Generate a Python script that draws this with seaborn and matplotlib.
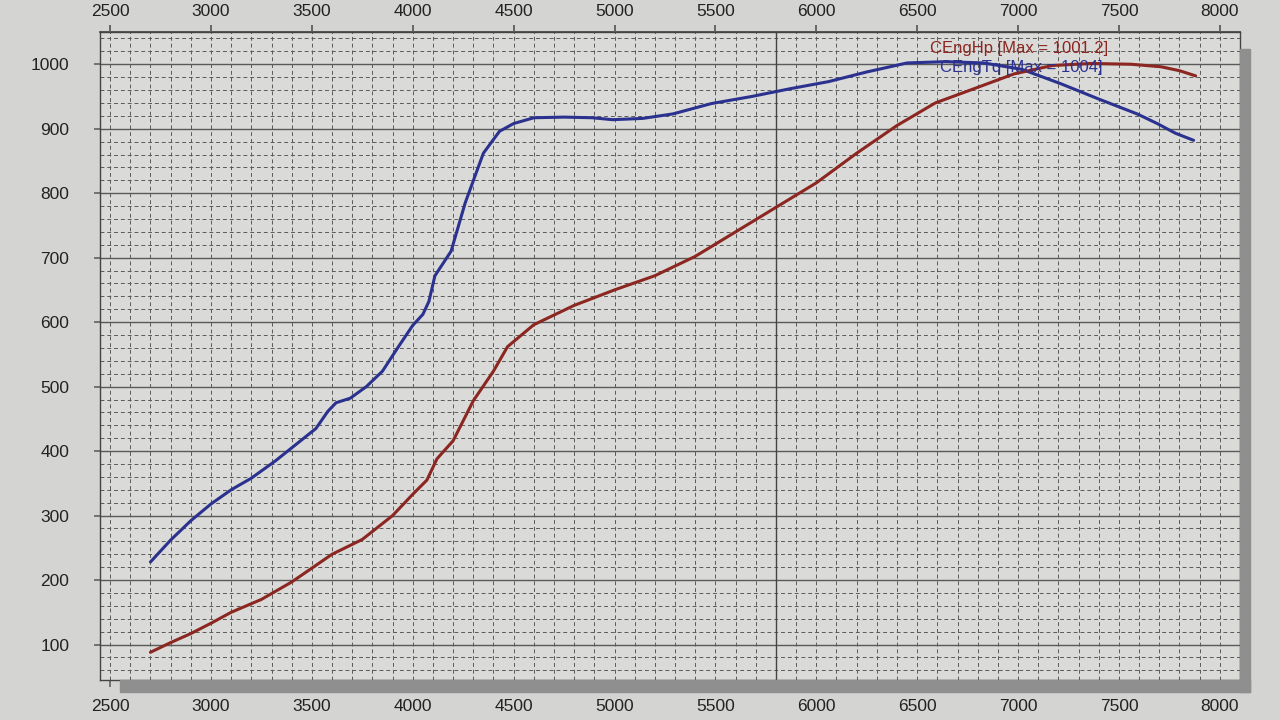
import numpy as np
import pandas as pd
import matplotlib.pyplot as plt
from matplotlib.patches import Rectangle
from matplotlib.ticker import MultipleLocator
import seaborn as sns

# Dyno run: torque (blue) and power (red) vs engine rpm
tq_rpm = [2700, 2800, 2900, 3000, 3100, 3200, 3320, 3420, 3520, 3580, 3620, 3690,
          3770, 3850, 3925, 4000, 4050, 4080, 4110, 4190, 4260, 4350, 4430, 4500,
          4600, 4750, 4890, 4990, 5140, 5290, 5480, 5680, 5870, 6060, 6250, 6450,
          6640, 6830, 7020, 7210, 7400, 7590, 7690, 7780, 7870]
tq_val = [228, 262, 292, 318, 340, 358, 385, 410, 435, 462, 475, 482,
          500, 524, 560, 595, 612, 632, 672, 710, 785, 862, 896, 908,
          917, 918, 917, 914, 916, 923, 939, 950, 962, 973, 988, 1002,
          1004, 1002, 992, 970, 946, 923, 908, 893, 882]

hp_rpm = [2700, 2800, 2900, 3000, 3100, 3250, 3400, 3600, 3750, 3900, 4000, 4070,
          4120, 4200, 4300, 4400, 4470, 4600, 4800, 5000, 5200, 5400, 5600, 5800,
          6000, 6200, 6400, 6590, 6790, 6980, 7170, 7360, 7560, 7710, 7800, 7880]
hp_val = [88, 103, 117, 133, 150, 170, 197, 240, 263, 300, 333, 355,
          388, 416, 478, 524, 562, 596, 626, 650, 672, 702, 740, 778,
          816, 862, 905, 940, 963, 985, 998, 1001.2, 1000, 996, 990, 982]

tq_label = "CEngTq [Max = 1004]"
hp_label = "CEngHp [Max = 1001.2]"
cursor_rpm = 5800

x_ticks = list(range(2500, 8001, 500))
y_ticks = list(range(100, 1001, 100))

blue = "#2b318f"
red = "#8c2620"

sns.set_theme(style="white")
plt.rcParams['font.family'] = ['Liberation Sans', 'DejaVu Sans']

fig = plt.figure(figsize=(12.8, 7.2), dpi=100, facecolor="#d4d4d2")
W, H = 1280, 720
left, right, top, bottom = 100, 1240, 32, 680
ax = fig.add_axes([left / W, 1 - bottom / H, (right - left) / W, (bottom - top) / H])

# drop shadow under / right of the plot panel
fig.patches.append(Rectangle(((left + 20) / W, 1 - (bottom + 12) / H), (right - left - 10) / W, 12 / H,
                             transform=fig.transFigure, color="#8f8f8f", zorder=0))
fig.patches.append(Rectangle((right / W, 1 - (bottom + 12) / H), 10 / W, (bottom - top - 5) / H,
                             transform=fig.transFigure, color="#8f8f8f", zorder=0))

ax.set_facecolor("#dadad8")

tq_df = pd.DataFrame({"rpm": tq_rpm, "value": tq_val})
hp_df = pd.DataFrame({"rpm": hp_rpm, "value": hp_val})
sns.lineplot(data=tq_df, x="rpm", y="value", ax=ax, color=blue, linewidth=2.2, zorder=5)
sns.lineplot(data=hp_df, x="rpm", y="value", ax=ax, color=red, linewidth=2.2, zorder=5)

ax.set_xlim(2450, 8100)
ax.set_ylim(45, 1050)

ax.xaxis.set_minor_locator(MultipleLocator(100))
ax.yaxis.set_minor_locator(MultipleLocator(20))
ax.set_xticks(x_ticks)
ax.set_yticks(y_ticks)

# grid: solid every 100 on y, dashed minor everywhere
dash = (0, (4, 3))
ax.grid(which="minor", axis="both", color="#5a5a5a", linestyle=dash, linewidth=0.7)
ax.grid(which="major", axis="x", color="#5a5a5a", linestyle=dash, linewidth=0.7)
ax.grid(which="major", axis="y", color="#5a5a5a", linestyle="-", linewidth=1.0)
ax.set_axisbelow(True)

ax.axvline(cursor_rpm, color="#444444", linewidth=1.0, zorder=4)

ax.tick_params(axis="x", which="major", top=True, labeltop=True, bottom=True, labelbottom=True,
               direction="out", length=5, color="#666666", labelsize=12.5, pad=5, labelcolor="#222222")
ax.tick_params(axis="x", which="major", pad=9, labeltop=False)
ax.tick_params(axis="y", which="major", left=True, direction="out", length=4, color="#666666",
               labelsize=12.5, pad=18, labelcolor="#222222")
ax.tick_params(which="minor", length=0)

# top labels sit a little closer to the panel than the bottom ones
top_ax = ax.secondary_xaxis("top")
top_ax.set_xticks(x_ticks)
top_ax.tick_params(direction="out", length=5, color="#666666", labelsize=12.5, pad=4, labelcolor="#222222")
top_ax.spines["top"].set_color("#444444")

for side in ["left", "right", "top", "bottom"]:
    ax.spines[side].set_visible(True)
    ax.spines[side].set_color("#444444")
    ax.spines[side].set_linewidth(1.0)

ax.set_xlabel("")
ax.set_ylabel("")

ax.text(6565, 1025, hp_label, color=red, fontsize=12, va="center", ha="left", zorder=6)
ax.text(6615, 995, tq_label, color=blue, fontsize=12, va="center", ha="left", zorder=6)

fig.savefig("out.png", dpi=100, facecolor=fig.get_facecolor())
